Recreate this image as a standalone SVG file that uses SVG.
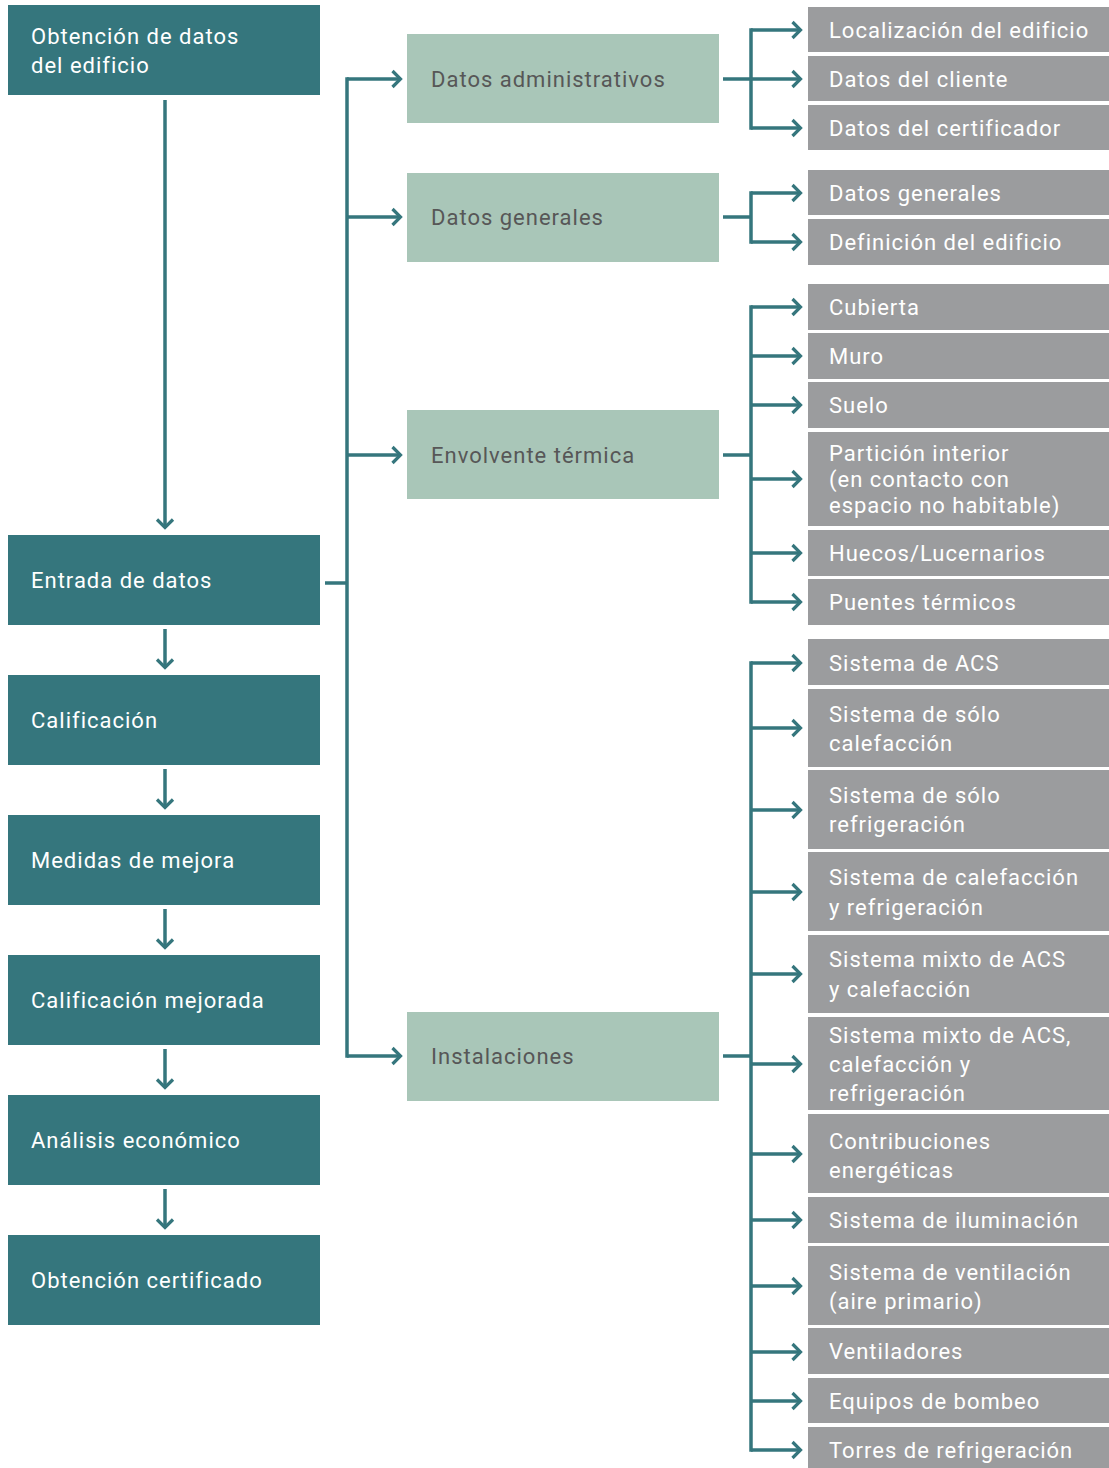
<svg xmlns="http://www.w3.org/2000/svg" width="1109" height="1468" viewBox="0 0 1109 1468">
<style>
.main{fill:#35767D}
.grn{fill:#A9C6B8}
.gry{fill:#9B9C9E}
text{font-family:"Roboto","Liberation Sans",sans-serif;font-size:22px;letter-spacing:1px}
.tw{fill:#FFFFFF}
.td{fill:#575757}
.ln{stroke:#35767D;stroke-width:3.5;fill:none}
</style>
<defs>
<marker id="ah" viewBox="0 0 12 20" refX="10.5" refY="10" markerWidth="12" markerHeight="20" markerUnits="userSpaceOnUse" orient="auto">
<path d="M2,2 L10,10 L2,18" fill="none" stroke="#35767D" stroke-width="3.2"/>
</marker>
</defs>
<rect width="1109" height="1468" fill="#FFFFFF"/>

<g id="n-obtencion-datos"><rect class="main" x="8" y="5" width="312" height="90"/><text class="tw" x="31" y="44">Obtención de datos</text><text class="tw" x="31" y="73">del edificio</text></g>
<g id="n-entrada"><rect class="main" x="8" y="535" width="312" height="90"/><text class="tw" x="31" y="588">Entrada de datos</text></g>
<g id="n-calificacion"><rect class="main" x="8" y="675" width="312" height="90"/><text class="tw" x="31" y="728">Calificación</text></g>
<g id="n-medidas"><rect class="main" x="8" y="815" width="312" height="90"/><text class="tw" x="31" y="868">Medidas de mejora</text></g>
<g id="n-calif-mejorada"><rect class="main" x="8" y="955" width="312" height="90"/><text class="tw" x="31" y="1008">Calificación mejorada</text></g>
<g id="n-analisis"><rect class="main" x="8" y="1095" width="312" height="90"/><text class="tw" x="31" y="1148">Análisis económico</text></g>
<g id="n-certificado"><rect class="main" x="8" y="1235" width="312" height="90"/><text class="tw" x="31" y="1288">Obtención certificado</text></g>

<g id="n-datos-admin"><rect class="grn" x="407" y="34" width="312" height="89"/><text class="td" x="431" y="87">Datos administrativos</text></g>
<g id="n-datos-gen"><rect class="grn" x="407" y="173" width="312" height="89"/><text class="td" x="431" y="225">Datos generales</text></g>
<g id="n-envolvente"><rect class="grn" x="407" y="410" width="312" height="89"/><text class="td" x="431" y="463">Envolvente térmica</text></g>
<g id="n-instalaciones"><rect class="grn" x="407" y="1012" width="312" height="89"/><text class="td" x="431" y="1064">Instalaciones</text></g>

<g id="n-localizacion"><rect class="gry" x="808" y="7" width="301" height="45"/><text class="tw" x="829" y="38">Localización del edificio</text></g>
<g id="n-cliente"><rect class="gry" x="808" y="56" width="301" height="45"/><text class="tw" x="829" y="87">Datos del cliente</text></g>
<g id="n-certificador"><rect class="gry" x="808" y="105" width="301" height="45"/><text class="tw" x="829" y="136">Datos del certificador</text></g>
<g id="n-dg"><rect class="gry" x="808" y="170" width="301" height="45"/><text class="tw" x="829" y="201">Datos generales</text></g>
<g id="n-definicion"><rect class="gry" x="808" y="219" width="301" height="46"/><text class="tw" x="829" y="250">Definición del edificio</text></g>
<g id="n-cubierta"><rect class="gry" x="808" y="284" width="301" height="46"/><text class="tw" x="829" y="315">Cubierta</text></g>
<g id="n-muro"><rect class="gry" x="808" y="333" width="301" height="46"/><text class="tw" x="829" y="364">Muro</text></g>
<g id="n-suelo"><rect class="gry" x="808" y="382" width="301" height="46"/><text class="tw" x="829" y="413">Suelo</text></g>
<g id="n-particion"><rect class="gry" x="808" y="432" width="301" height="94"/><text class="tw" x="829" y="461">Partición interior</text><text class="tw" x="829" y="487">(en contacto con</text><text class="tw" x="829" y="513">espacio no habitable)</text></g>
<g id="n-huecos"><rect class="gry" x="808" y="530" width="301" height="46"/><text class="tw" x="829" y="561">Huecos/Lucernarios</text></g>
<g id="n-puentes"><rect class="gry" x="808" y="579" width="301" height="46"/><text class="tw" x="829" y="610">Puentes térmicos</text></g>
<g id="n-acs"><rect class="gry" x="808" y="639" width="301" height="46"/><text class="tw" x="829" y="671">Sistema de ACS</text></g>
<g id="n-solo-cal"><rect class="gry" x="808" y="689" width="301" height="78"/><text class="tw" x="829" y="722">Sistema de sólo</text><text class="tw" x="829" y="751">calefacción</text></g>
<g id="n-solo-ref"><rect class="gry" x="808" y="770" width="301" height="79"/><text class="tw" x="829" y="803">Sistema de sólo</text><text class="tw" x="829" y="832">refrigeración</text></g>
<g id="n-cal-ref"><rect class="gry" x="808" y="852" width="301" height="79"/><text class="tw" x="829" y="885">Sistema de calefacción</text><text class="tw" x="829" y="915">y refrigeración</text></g>
<g id="n-mixto-acs-cal"><rect class="gry" x="808" y="935" width="301" height="78"/><text class="tw" x="829" y="967">Sistema mixto de ACS</text><text class="tw" x="829" y="997">y calefacción</text></g>
<g id="n-mixto-acs-cal-ref"><rect class="gry" x="808" y="1017" width="301" height="93"/><text class="tw" x="829" y="1043">Sistema mixto de ACS,</text><text class="tw" x="829" y="1072">calefacción y</text><text class="tw" x="829" y="1101">refrigeración</text></g>
<g id="n-contribuciones"><rect class="gry" x="808" y="1114" width="301" height="79"/><text class="tw" x="829" y="1149">Contribuciones</text><text class="tw" x="829" y="1178">energéticas</text></g>
<g id="n-iluminacion"><rect class="gry" x="808" y="1197" width="301" height="46"/><text class="tw" x="829" y="1228">Sistema de iluminación</text></g>
<g id="n-ventilacion"><rect class="gry" x="808" y="1246" width="301" height="79"/><text class="tw" x="829" y="1280">Sistema de ventilación</text><text class="tw" x="829" y="1309">(aire primario)</text></g>
<g id="n-ventiladores"><rect class="gry" x="808" y="1328" width="301" height="46"/><text class="tw" x="829" y="1359">Ventiladores</text></g>
<g id="n-bombeo"><rect class="gry" x="808" y="1378" width="301" height="45"/><text class="tw" x="829" y="1409">Equipos de bombeo</text></g>
<g id="n-torres"><rect class="gry" x="808" y="1427" width="301" height="41"/><text class="tw" x="829" y="1458">Torres de refrigeración</text></g>

<g id="connectors" class="ln">
<path d="M165,100 V528" marker-end="url(#ah)"/>
<path d="M165,629 V668" marker-end="url(#ah)"/>
<path d="M165,769 V808" marker-end="url(#ah)"/>
<path d="M165,909 V948" marker-end="url(#ah)"/>
<path d="M165,1049 V1088" marker-end="url(#ah)"/>
<path d="M165,1189 V1228" marker-end="url(#ah)"/>

<path d="M325,583 H347"/>
<path d="M347,77.25 V1057.75"/>
<path d="M347,79 H401" marker-end="url(#ah)"/>
<path d="M347,217 H401" marker-end="url(#ah)"/>
<path d="M347,455 H401" marker-end="url(#ah)"/>
<path d="M347,1056 H401" marker-end="url(#ah)"/>

<path d="M723,79 H751"/>
<path d="M751,28.25 V129.75"/>
<path d="M751,30 H801" marker-end="url(#ah)"/>
<path d="M751,79 H801" marker-end="url(#ah)"/>
<path d="M751,128 H801" marker-end="url(#ah)"/>

<path d="M723,217 H751"/>
<path d="M751,191.25 V243.75"/>
<path d="M751,193 H801" marker-end="url(#ah)"/>
<path d="M751,242 H801" marker-end="url(#ah)"/>

<path d="M723,455 H751"/>
<path d="M751,305.25 V603.75"/>
<path d="M751,307 H801" marker-end="url(#ah)"/>
<path d="M751,356 H801" marker-end="url(#ah)"/>
<path d="M751,405 H801" marker-end="url(#ah)"/>
<path d="M751,479 H801" marker-end="url(#ah)"/>
<path d="M751,553 H801" marker-end="url(#ah)"/>
<path d="M751,602 H801" marker-end="url(#ah)"/>

<path d="M723,1056 H751"/>
<path d="M751,661.25 V1451.75"/>
<path d="M751,663 H801" marker-end="url(#ah)"/>
<path d="M751,728 H801" marker-end="url(#ah)"/>
<path d="M751,810 H801" marker-end="url(#ah)"/>
<path d="M751,892 H801" marker-end="url(#ah)"/>
<path d="M751,974 H801" marker-end="url(#ah)"/>
<path d="M751,1064 H801" marker-end="url(#ah)"/>
<path d="M751,1154 H801" marker-end="url(#ah)"/>
<path d="M751,1220 H801" marker-end="url(#ah)"/>
<path d="M751,1286 H801" marker-end="url(#ah)"/>
<path d="M751,1352 H801" marker-end="url(#ah)"/>
<path d="M751,1401 H801" marker-end="url(#ah)"/>
<path d="M751,1450 H801" marker-end="url(#ah)"/>
</g>
</svg>
